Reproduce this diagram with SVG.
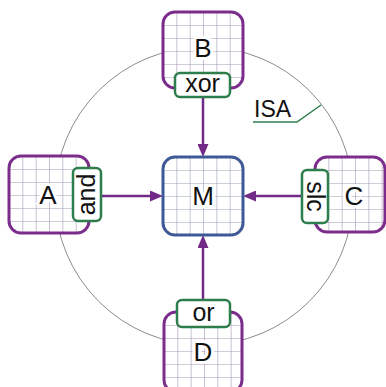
<svg xmlns="http://www.w3.org/2000/svg" width="386" height="387" viewBox="0 0 386 387">
<style>
.box{fill:url(#grid);stroke:#7b2d8b;stroke-width:3}
.boxm{fill:url(#gridm);stroke:#3d5a96;stroke-width:3}
.name{font-family:"Liberation Sans",Arial,sans-serif;font-size:26px;fill:#111;text-anchor:middle;stroke:#fff;stroke-width:6;paint-order:stroke;stroke-linejoin:round}
.lab{fill:#fff;stroke:#2e7d4c;stroke-width:2.5}
.labt{font-family:"Liberation Sans",Arial,sans-serif;font-size:25px;fill:#111;text-anchor:middle}
.conn{stroke:#722a88;stroke-width:2.5;fill:none}
</style>
<defs>
<pattern id="grid" patternUnits="userSpaceOnUse" width="13.333" height="13">
<rect width="13.333" height="13" fill="#fff"/>
<path d="M0,0 V13 M0,0 H13.333" stroke="#a697b3" stroke-width="1.2" fill="none"/>
</pattern>
<pattern id="gridm" patternUnits="userSpaceOnUse" width="13.333" height="13">
<rect width="13.333" height="13" fill="#fff"/>
<path d="M0,0 V13 M0,0 H13.333" stroke="#9aa3ba" stroke-width="1.2" fill="none"/>
</pattern>
<marker id="arr" markerUnits="userSpaceOnUse" markerWidth="13" markerHeight="11" refX="5" refY="5.5" orient="auto">
<path d="M0,0 L13,5.5 L0,11 z" fill="#722a88"/>
</marker>
</defs>
<circle cx="204" cy="196" r="149" fill="none" stroke="#8c8c8c" stroke-width="1"/>
<g id="connectors">
<line class="conn" x1="203" y1="97" x2="203" y2="149" marker-end="url(#arr)"/>
<line class="conn" x1="203" y1="300" x2="203" y2="243" marker-end="url(#arr)"/>
<line class="conn" x1="101" y1="196" x2="155" y2="196" marker-end="url(#arr)"/>
<line class="conn" x1="302" y1="196" x2="251" y2="196" marker-end="url(#arr)"/>
</g>
<g id="M" transform="translate(163,157)">
<rect class="boxm" x="0" y="0" width="80" height="78" rx="12"/>
<text class="name" x="40" y="48">M</text>
</g>
<g id="B" transform="translate(163,12)">
<rect class="box" x="0" y="0" width="80" height="76" rx="12"/>
<text class="name" x="40" y="45">B</text>
</g>
<g id="A" transform="translate(9,156)">
<rect class="box" x="0" y="0" width="80" height="77" rx="12"/>
<text class="name" x="39" y="48">A</text>
</g>
<g id="C" transform="translate(315,157)">
<rect class="box" x="0" y="0" width="70" height="75" rx="12"/>
<text class="name" x="39" y="48">C</text>
</g>
<g id="D" transform="translate(164,312)">
<rect class="box" x="0" y="0" width="78" height="80" rx="12"/>
<text class="name" x="39" y="49">D</text>
</g>
<g id="xor">
<rect class="lab" x="175" y="73" width="55" height="24" rx="5"/>
<text class="labt" x="202.5" y="92">xor</text>
</g>
<g id="and">
<rect class="lab" x="73" y="168" width="28" height="53" rx="5"/>
<text class="labt" transform="translate(87,194.5) rotate(-90)" x="0" y="8">and</text>
</g>
<g id="slc">
<rect class="lab" x="302" y="170" width="26" height="53" rx="5"/>
<text class="labt" transform="translate(315,196.5) rotate(90)" x="0" y="8">slc</text>
</g>
<g id="or">
<rect class="lab" x="177" y="300" width="53" height="27" rx="5"/>
<text class="labt" x="203.5" y="321">or</text>
</g>
<g id="ISA">
<text x="254" y="117" font-family="Liberation Sans, Arial, sans-serif" font-size="23" fill="#111">ISA</text>
<polyline points="253,122 297,122 321,105" fill="none" stroke="#2e7d4c" stroke-width="1.5"/>
</g>
</svg>
